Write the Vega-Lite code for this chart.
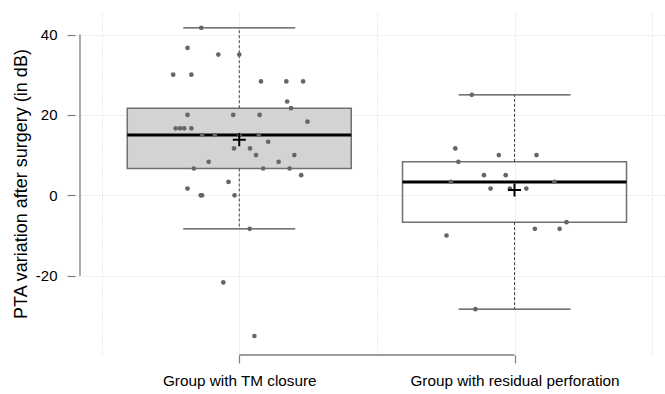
{
  "$schema": "https://vega.github.io/schema/vega-lite/v6.json",
  "width": 590,
  "height": 343,
  "autosize": {"type": "none"},
  "padding": {"left": 75, "top": 12, "right": 0, "bottom": 39},
  "config": {
    "view": {"stroke": null},
    "font": "Liberation Sans",
    "axis": {"labelFont": "Liberation Sans", "titleFont": "Liberation Sans"}
  },
  "datasets": {
    "stats": [
      {"g": 1, "group": "Group with TM closure", "q1": 6.67, "med": 15, "q3": 21.67, "lo": -8.33, "hi": 41.67, "mean": 13.8},
      {"g": 2, "group": "Group with residual perforation", "q1": -6.67, "med": 3.33, "q3": 8.33, "lo": -28.33, "hi": 25, "mean": 1.35}
    ],
    "pts": [
      {"x": 0.862, "v": 41.67}, {"x": 0.812, "v": 36.67}, {"x": 0.924, "v": 35}, {"x": 1.0, "v": 35},
      {"x": 0.76, "v": 30}, {"x": 0.826, "v": 30}, {"x": 1.079, "v": 28.33}, {"x": 1.171, "v": 28.33},
      {"x": 1.232, "v": 28.33}, {"x": 1.174, "v": 23.33}, {"x": 1.188, "v": 21.67}, {"x": 0.812, "v": 20},
      {"x": 0.978, "v": 20}, {"x": 1.074, "v": 20}, {"x": 1.248, "v": 18.33}, {"x": 0.769, "v": 16.67},
      {"x": 0.785, "v": 16.67}, {"x": 0.8, "v": 16.67}, {"x": 0.826, "v": 16.67}, {"x": 0.865, "v": 15},
      {"x": 0.911, "v": 15}, {"x": 1.001, "v": 15}, {"x": 1.071, "v": 15}, {"x": 1.105, "v": 13.33},
      {"x": 0.981, "v": 11.67}, {"x": 1.039, "v": 11.67}, {"x": 1.061, "v": 10}, {"x": 1.2, "v": 10},
      {"x": 0.889, "v": 8.33}, {"x": 1.143, "v": 8.33}, {"x": 0.835, "v": 6.67}, {"x": 1.087, "v": 6.67},
      {"x": 1.183, "v": 6.67}, {"x": 1.225, "v": 5}, {"x": 0.961, "v": 3.33}, {"x": 0.812, "v": 1.67},
      {"x": 0.86, "v": 0}, {"x": 0.865, "v": 0}, {"x": 0.983, "v": 0}, {"x": 1.038, "v": -8.33},
      {"x": 0.942, "v": -21.67}, {"x": 1.055, "v": -35},
      {"x": 1.845, "v": 25}, {"x": 1.785, "v": 11.67}, {"x": 1.943, "v": 10}, {"x": 2.08, "v": 10},
      {"x": 1.796, "v": 8.33}, {"x": 1.889, "v": 5}, {"x": 1.968, "v": 5}, {"x": 1.769, "v": 3.33},
      {"x": 2.145, "v": 3.33}, {"x": 1.913, "v": 1.67}, {"x": 1.983, "v": 1.67}, {"x": 2.043, "v": 1.67},
      {"x": 2.189, "v": -6.67}, {"x": 2.074, "v": -8.33}, {"x": 2.164, "v": -8.33}, {"x": 1.753, "v": -10},
      {"x": 1.858, "v": -28.33}
    ]
  },
  "layer": [
    {
      "data": {"name": "stats"},
      "mark": {"type": "bar", "size": 224, "stroke": "#707070", "strokeWidth": 1.5},
      "encoding": {
        "x": {
          "field": "g", "type": "quantitative",
          "scale": {"domain": [0.4214, 2.5286], "nice": false, "zero": false},
          "axis": {
            "values": [0.5, 1, 1.5, 2, 2.5],
            "title": null,
            "domain": false,
            "grid": true,
            "gridColor": "#d4d4d4",
            "gridDash": [1, 2],
            "gridWidth": 1,
            "tickSize": 8,
            "tickWidth": 1.2,
            "tickColor": "#7f7f7f",
            "tickOpacity": {"condition": {"test": "datum.value == 1 || datum.value == 2", "value": 1}, "value": 0},
            "labelExpr": "datum.value == 1 ? 'Group with TM closure' : datum.value == 2 ? 'Group with residual perforation' : ''",
            "labelFontSize": 15.3,
            "labelColor": "#000000",
            "labelPadding": 10,
            "labelLimit": 0,
            "labelOverlap": false,
            "labelFlush": false,
            "labelBound": false
          }
        },
        "y": {
          "field": "q3", "type": "quantitative",
          "scale": {"domain": [-39.72, 45.6], "nice": false, "zero": false},
          "axis": {
            "values": [-20, 0, 20, 40],
            "labelExpr": "'' + datum.value",
            "title": "PTA variation after surgery (in dB)",
            "titleFontSize": 18,
            "titleFontWeight": "normal",
            "titleColor": "#000000",
            "titlePadding": 5,
            "domain": false,
            "grid": true,
            "gridColor": "#d4d4d4",
            "gridDash": [1, 2],
            "gridWidth": 1,
            "tickSize": 8,
            "tickWidth": 1.2,
            "tickColor": "#7f7f7f",
            "labelFontSize": 15,
            "labelColor": "#000000",
            "labelPadding": 10
          }
        },
        "y2": {"field": "q1"},
        "fill": {
          "field": "g", "type": "nominal",
          "scale": {"domain": [1, 2], "range": ["#d3d3d3", "rgba(255,255,255,0)"]},
          "legend": null
        }
      }
    },
    {
      "data": {"name": "stats"},
      "mark": {"type": "rule", "color": "#444444", "strokeWidth": 1, "strokeDash": [3, 2]},
      "encoding": {
        "x": {"field": "g", "type": "quantitative"},
        "y": {"field": "q3", "type": "quantitative"},
        "y2": {"field": "hi"}
      }
    },
    {
      "data": {"name": "stats"},
      "mark": {"type": "rule", "color": "#444444", "strokeWidth": 1, "strokeDash": [3, 2]},
      "encoding": {
        "x": {"field": "g", "type": "quantitative"},
        "y": {"field": "q1", "type": "quantitative"},
        "y2": {"field": "lo"}
      }
    },
    {
      "data": {"name": "stats"},
      "mark": {"type": "tick", "orient": "horizontal", "size": 112, "thickness": 1.3, "color": "#4a4a4a", "opacity": 1},
      "encoding": {
        "x": {"field": "g", "type": "quantitative"},
        "y": {"field": "hi", "type": "quantitative"}
      }
    },
    {
      "data": {"name": "stats"},
      "mark": {"type": "tick", "orient": "horizontal", "size": 112, "thickness": 1.3, "color": "#4a4a4a", "opacity": 1},
      "encoding": {
        "x": {"field": "g", "type": "quantitative"},
        "y": {"field": "lo", "type": "quantitative"}
      }
    },
    {
      "data": {"name": "stats"},
      "mark": {"type": "tick", "orient": "horizontal", "size": 224, "thickness": 3, "color": "#000000", "opacity": 1},
      "encoding": {
        "x": {"field": "g", "type": "quantitative"},
        "y": {"field": "med", "type": "quantitative"}
      }
    },
    {
      "data": {"name": "pts"},
      "mark": {"type": "circle", "size": 22, "color": "#666666", "opacity": 1},
      "encoding": {
        "x": {"field": "x", "type": "quantitative"},
        "y": {"field": "v", "type": "quantitative"}
      }
    },
    {
      "data": {"name": "stats"},
      "mark": {"type": "point", "shape": "M-1,0L1,0M0,-1L0,1", "size": 169, "filled": false, "stroke": "#000000", "strokeWidth": 2, "opacity": 1},
      "encoding": {
        "x": {"field": "g", "type": "quantitative"},
        "y": {"field": "mean", "type": "quantitative"}
      }
    },
    {
      "data": {"values": [{}]},
      "mark": {"type": "rule", "color": "#7f7f7f", "strokeWidth": 1.3},
      "encoding": {
        "x": {"datum": 0.4214},
        "y": {"datum": -20},
        "y2": {"datum": 40}
      }
    },
    {
      "data": {"values": [{}]},
      "mark": {"type": "rule", "color": "#7f7f7f", "strokeWidth": 1.3},
      "encoding": {
        "x": {"datum": 1},
        "x2": {"datum": 2},
        "y": {"datum": -39.72}
      }
    }
  ]
}
